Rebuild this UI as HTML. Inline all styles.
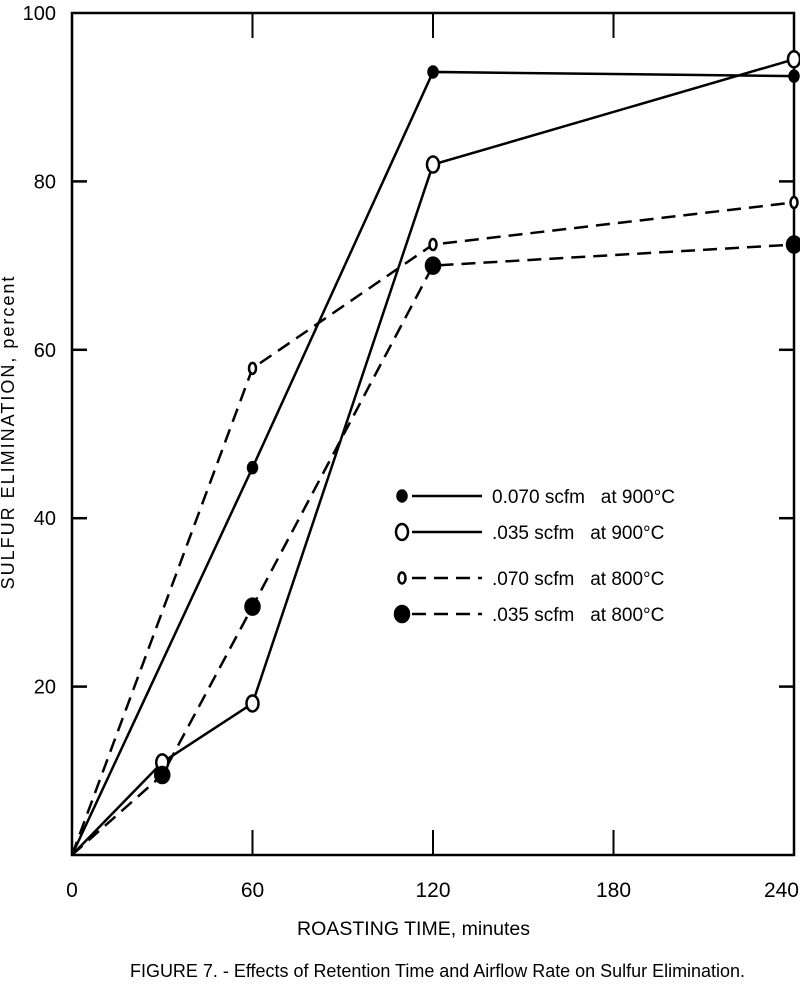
<!DOCTYPE html>
<html><head><meta charset="utf-8"><style>
body{margin:0;background:#fff;}
svg{display:block;font-family:"Liberation Sans",sans-serif;}
</style></head><body>
<svg width="800" height="990" viewBox="0 0 800 990">
<g id="axes"></g>
<g id="series"></g>
<g id="legend"></g>
<text x="297" y="935" textLength="233" lengthAdjust="spacingAndGlyphs" font-size="19">ROASTING TIME, minutes</text>
<text transform="translate(14,432) rotate(-90)" text-anchor="middle" font-size="18" letter-spacing="2">SULFUR ELIMINATION, percent</text>
<text x="130" y="977" textLength="615" lengthAdjust="spacingAndGlyphs" font-size="18">FIGURE 7. - Effects of Retention Time and Airflow Rate on Sulfur Elimination.</text>
</svg>
<script>
const xTicks=[0,60,120,180,240];
const yTicks=[20,40,60,80,100];
const s1x=[0,60,120,240], s1y=[0,46,93,92.5];
const s2x=[0,30,60,120,240], s2y=[0,11,18,82,94.5];
const s3x=[0,60,120,240], s3y=[0,57.8,72.5,77.5];
const s4x=[0,30,60,120,240], s4y=[0,9.5,29.5,70,72.5];
const legendLabels=["0.070 scfm   at 900°C",".035 scfm   at 900°C",".070 scfm   at 800°C",".035 scfm   at 800°C"];
const L=72,R=794,T=13,B=855;
const X=v=>L+(R-L)*v/240, Y=v=>B-(B-T)*v/100;
const NS="http://www.w3.org/2000/svg";
function mk(tag,attrs,parent){const e=document.createElementNS(NS,tag);for(const k in attrs)e.setAttribute(k,attrs[k]);parent.appendChild(e);return e;}
const ax=document.getElementById('axes');
const frame=mk('rect',{x:L,y:T,width:R-L,height:B-T,fill:'none',stroke:'#000','stroke-width':2.5},ax);


xTicks.forEach(t=>{
  if(t>0&&t<240){
    const a=mk('line',{x1:X(t),x2:X(t),y1:B,y2:B-25,stroke:'#000','stroke-width':2},ax);
    
    
    const b=mk('line',{x1:X(t),x2:X(t),y1:T,y2:T+25,stroke:'#000','stroke-width':2},ax);
    
    
  }
  const anchor=t===240?'end':'middle';
  const tx=mk('text',{x:t===240?799:X(t),y:B+42,'text-anchor':anchor,'font-size':21},ax);
  tx.textContent=t;
  
  
});
yTicks.forEach(t=>{
  if(t<100){
    const a=mk('line',{x1:L,x2:L+15,y1:Y(t),y2:Y(t),stroke:'#000','stroke-width':2.5},ax);
    
    
    const b=mk('line',{x1:R,x2:R-15,y1:Y(t),y2:Y(t),stroke:'#000','stroke-width':2.5},ax);
    
    
  }
  const tx=mk('text',{x:L-16,y:Y(t)+7,'text-anchor':'end','font-size':20},ax);
  tx.textContent=t;
  
  
});
const sg=document.getElementById('series');
const defs=[[s1x,s1y,false,'filled',4.5,'series-0070-900'],[s2x,s2y,false,'open',7,'series-0035-900'],[s3x,s3y,true,'open',4.5,'series-0070-800'],[s4x,s4y,true,'filled',7,'series-0035-800']];
function marker(cx,cy,kind,r,parent){
  return mk('ellipse',{cx:cx,cy:cy,rx:kind==='open'?r-1:r,ry:r+1,fill:kind==='filled'?'#000':'#fff',stroke:'#000','stroke-width':2.5},parent);
}
defs.forEach(([xs,ys,dash,kind,r,name])=>{
  const g=mk('g',{},sg);
  
  
  const p=mk('polyline',{points:xs.map((x,i)=>X(x)+','+Y(ys[i])).join(' '),fill:'none',stroke:'#000','stroke-width':2.5,'stroke-dasharray':dash?'14,8':'none'},g);
  
  
  xs.forEach((x,i)=>{if(i===0)return;
    const m=marker(X(x),Y(ys[i]),kind,r,g);
    
    
  });
});
const lg=document.getElementById('legend');
const ly=[496,532,578,614];
legendLabels.forEach((lab,i)=>{
  const d=defs[i];
  const g=mk('g',{},lg);
  
  
  mk('line',{x1:412,x2:482,y1:ly[i],y2:ly[i],stroke:'#000','stroke-width':2.5,'stroke-dasharray':d[2]?'14,8':'none'},g);
  marker(402,ly[i],d[3],d[4],g);
  const t=mk('text',{x:492,y:ly[i]+7,'font-size':19},g);
  t.setAttribute('style','white-space:pre');
  t.textContent=lab;
});
</script>
</body></html>
